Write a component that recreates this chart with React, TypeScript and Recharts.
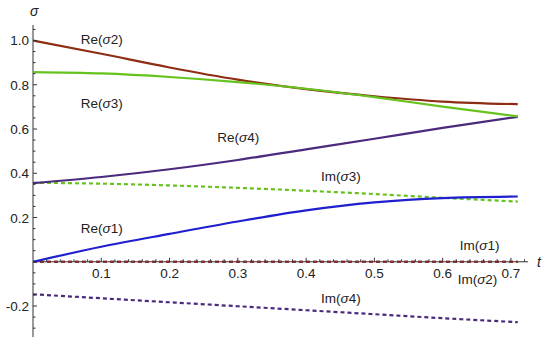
import React from 'react';
import { LineChart, Line, XAxis, YAxis, ReferenceLine, ReferenceDot } from 'recharts';

const tValues = [0, 0.1, 0.2, 0.3, 0.4, 0.5, 0.6, 0.71];
const reSigma1 = [0, 0.068, 0.126, 0.182, 0.232, 0.268, 0.288, 0.295];
const reSigma2 = [1.0, 0.94, 0.878, 0.823, 0.78, 0.748, 0.724, 0.712];
const reSigma3 = [0.857, 0.851, 0.835, 0.812, 0.782, 0.744, 0.701, 0.657];
const reSigma4 = [0.355, 0.383, 0.418, 0.46, 0.508, 0.556, 0.605, 0.655];
const imSigma1 = [0, 0, 0, 0, 0, 0, 0, 0];
const imSigma2 = [0, 0, 0, 0, 0, 0, 0, 0];
const imSigma3 = [0.357, 0.353, 0.345, 0.334, 0.321, 0.306, 0.289, 0.272];
const imSigma4 = [-0.147, -0.165, -0.183, -0.201, -0.219, -0.237, -0.255, -0.273];

const xMajor = [0.1, 0.2, 0.3, 0.4, 0.5, 0.6, 0.7];
const yMajor = [-0.2, 0.2, 0.4, 0.6, 0.8, 1.0];

// label anchors in data units
const labels = [
  { t: 0.07, v: 0.985, text: 'Re(', n: '2' },
  { t: 0.07, v: 0.695, text: 'Re(', n: '3' },
  { t: 0.27, v: 0.54, text: 'Re(', n: '4' },
  { t: 0.422, v: 0.365, text: 'Im(', n: '3' },
  { t: 0.07, v: 0.13, text: 'Re(', n: '1' },
  { t: 0.625, v: 0.055, text: 'Im(', n: '1' },
  { t: 0.622, v: -0.1, text: 'Im(', n: '2' },
  { t: 0.422, v: -0.185, text: 'Im(', n: '4' },
];

const data = tValues.map((t, i) => ({
  t,
  re1: reSigma1[i],
  re2: reSigma2[i],
  re3: reSigma3[i],
  re4: reSigma4[i],
  im1: imSigma1[i],
  im2: imSigma2[i],
  im3: imSigma3[i],
  im4: imSigma4[i],
}));

const W = 550;
const H = 342;
const M = { top: 25, right: 22, bottom: 0, left: 0 };
const X_AXIS_H = 5;
const Y_DOMAIN: [number, number] = [-0.34, 1.07];
const X_DOMAIN: [number, number] = [0, 0.725];
const plotH = H - M.top - M.bottom - X_AXIS_H;
const yZero = M.top + (Y_DOMAIN[1] / (Y_DOMAIN[1] - Y_DOMAIN[0])) * plotH;

const xTicks: number[] = [];
for (let k = 1; k <= 36; k++) xTicks.push(+(k * 0.02).toFixed(2));
const xAll = Array.from(new Set([...xTicks, ...xMajor])).sort((a, b) => a - b);
const yTicks: number[] = [];
for (let k = -6; k <= 21; k++) yTicks.push(+(k * 0.05).toFixed(2));

const font = 'Liberation Sans, Arial, sans-serif';

const isMajor = (arr: number[], v: number) => arr.some((m) => Math.abs(m - v) < 1e-6);

const XTick = (props: any) => {
  const { x, payload } = props;
  const v = payload.value;
  const major = isMajor(xMajor, v);
  return (
    <g>
      <line x1={x} x2={x} y1={yZero} y2={yZero - (major ? 4 : 2.5)} stroke="#333" strokeWidth={1} />
      {major && (
        <text x={x} y={yZero + 16} textAnchor="middle" fontSize={13.5} fontFamily={font} fill="#222">
          {v.toFixed(1)}
        </text>
      )}
    </g>
  );
};

const YTick = (props: any) => {
  const { y, payload } = props;
  const v = payload.value;
  const major = isMajor(yMajor, v);
  const x0 = M.left + 33;
  return (
    <g>
      <line x1={x0} x2={x0 + (major ? 4 : 2.5)} y1={y} y2={y} stroke="#333" strokeWidth={1} />
      {major && (
        <text x={x0 - 4} y={y + 5} textAnchor="end" fontSize={13.5} fontFamily={font} fill="#222">
          {v < 0 ? '-' + Math.abs(v).toFixed(1) : v.toFixed(1)}
        </text>
      )}
    </g>
  );
};

const CurveLabel = (props: any) => {
  const { cx, cy, text, n } = props;
  return (
    <text x={cx} y={cy} fontSize={13.5} fontFamily={font} fill="#222">
      {text}
      <tspan fontStyle="italic">σ</tspan>
      {n})
    </text>
  );
};

export default function App() {
  return (
    <div style={{ position: 'absolute', left: 0, top: 0, background: '#fff' }}>
      <LineChart width={W} height={H} data={data} margin={M}>
        <XAxis
          dataKey="t"
          type="number"
          domain={X_DOMAIN}
          ticks={xAll}
          tick={<XTick />}
          tickLine={false}
          axisLine={false}
          height={X_AXIS_H}
          interval={0}
          allowDataOverflow
        />
        <YAxis
          type="number"
          domain={Y_DOMAIN}
          ticks={yTicks}
          tick={<YTick />}
          tickLine={false}
          axisLine={false}
          width={33}
          interval={0}
          allowDataOverflow
        />
        <ReferenceLine x={0} stroke="#333" strokeWidth={1} />
        <ReferenceLine y={0} stroke="#333" strokeWidth={1} />
        <Line dataKey="im1" stroke="#1f1fd0" strokeWidth={2} strokeDasharray="4 3" dot={false} isAnimationActive={false} />
        <Line dataKey="im2" stroke="#8c2d14" strokeWidth={2} strokeDasharray="4 3" dot={false} isAnimationActive={false} />
        <Line type="monotone" dataKey="im3" stroke="#66c21c" strokeWidth={2.2} strokeDasharray="4 3" dot={false} isAnimationActive={false} />
        <Line type="monotone" dataKey="im4" stroke="#4b2a7e" strokeWidth={2.2} strokeDasharray="4 3" dot={false} isAnimationActive={false} />
        <Line type="monotone" dataKey="re4" stroke="#4b2a7e" strokeWidth={2.2} dot={false} isAnimationActive={false} />
        <Line type="monotone" dataKey="re1" stroke="#1f1fd0" strokeWidth={2.2} dot={false} isAnimationActive={false} />
        <Line type="monotone" dataKey="re2" stroke="#8c2d14" strokeWidth={2.2} dot={false} isAnimationActive={false} />
        <Line type="monotone" dataKey="re3" stroke="#66c21c" strokeWidth={2.2} dot={false} isAnimationActive={false} />
        {labels.map((l, i) => (
          <ReferenceDot key={i} x={l.t} y={l.v} r={0} shape={(p: any) => <CurveLabel {...p} text={l.text} n={l.n} />} />
        ))}
        <ReferenceDot x={0} y={Y_DOMAIN[1]} r={0} shape={(p: any) => (
          <text x={p.cx - 3} y={16} fontSize={14} fontStyle="italic" fontFamily={font} fill="#222">σ</text>
        )} />
        <ReferenceDot x={X_DOMAIN[1]} y={0} r={0} shape={(p: any) => (
          <text x={p.cx + 9} y={p.cy + 5} fontSize={14} fontStyle="italic" fontFamily={font} fill="#222">t</text>
        )} />
      </LineChart>
    </div>
  );
}
